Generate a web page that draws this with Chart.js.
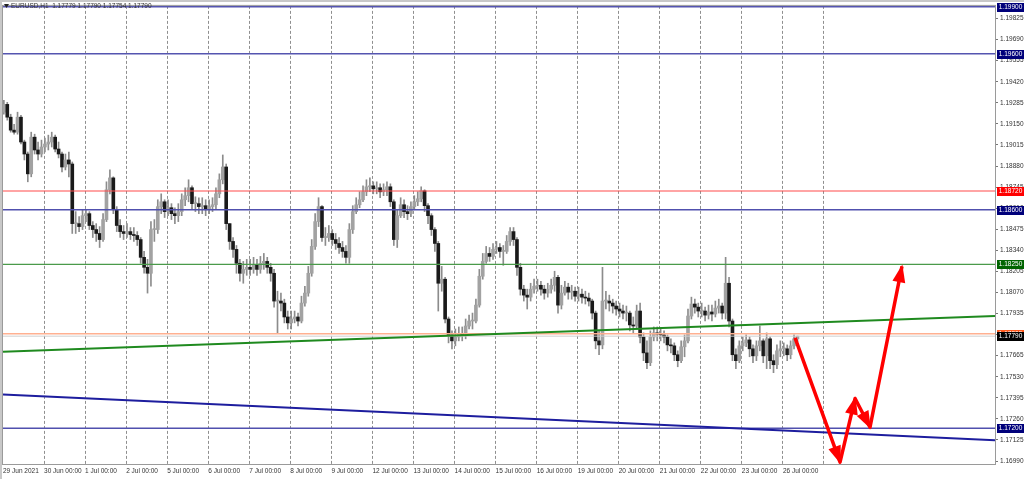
<!DOCTYPE html>
<html>
<head>
<meta charset="utf-8">
<script src="https://cdn.jsdelivr.net/npm/chart.js@4.4.0/dist/chart.umd.min.js"></script>
<style>
  html, body { margin: 0; padding: 0; background: #fff; }
  canvas { display: block; }
</style>
</head>
<body>
<canvas id="chart" width="1024" height="479"></canvas>
<script>
const symbolTitle = 'EURUSD,H1  1.17779 1.17790 1.17754 1.17790';

// time axis: H1 bar index where each trading day starts
const dayStarts = [0, 24, 48, 72, 96, 120, 144, 168, 192, 216, 240, 264, 288, 312, 336, 360, 384, 408, 432, 456, 480];
const dayLabels = ['29 Jun 2021', '30 Jun 00:00', '1 Jul 00:00', '2 Jul 00:00', '5 Jul 00:00', '6 Jul 00:00',
  '7 Jul 00:00', '8 Jul 00:00', '9 Jul 00:00', '12 Jul 00:00', '13 Jul 00:00', '14 Jul 00:00', '15 Jul 00:00',
  '16 Jul 00:00', '19 Jul 00:00', '20 Jul 00:00', '21 Jul 00:00', '22 Jul 00:00', '23 Jul 00:00', '26 Jul 00:00', ''];

const yTickValues = [1.16990, 1.17125, 1.17260, 1.17395, 1.17530, 1.17665, 1.17800, 1.17935, 1.18070, 1.18205,
  1.18340, 1.18475, 1.18610, 1.18745, 1.18880, 1.19015, 1.19150, 1.19285, 1.19420, 1.19555, 1.19690, 1.19825];

// price, one candle per two H1 bars
const hoursPerCandle = 2;
const firstOpen = 1.19225;
const closes = [
  1.19275, 1.19193, 1.19110, 1.19097, 1.19193, 1.19034, 1.18957, 1.18830, 1.19065, 1.18983, 1.18957, 1.19002, // 29 Jun
  1.19021, 1.19034, 1.19065, 1.18989, 1.18957, 1.18874, 1.18919, 1.18893, 1.18511, 1.18511, 1.18492, 1.18562, // 30 Jun
  1.18575, 1.18499, 1.18473, 1.18448, 1.18409, 1.18537, 1.18728, 1.18804, 1.18600, 1.18499, 1.18460, 1.18448, // 1 Jul
  1.18460, 1.18441, 1.18435, 1.18409, 1.18295, 1.18231, 1.18193, 1.18473, 1.18473, 1.18620, 1.18651, 1.18588, // 2 Jul
  1.18613, 1.18575, 1.18562, 1.18588, 1.18664, 1.18690, 1.18741, 1.18639, 1.18639, 1.18620, 1.18626, 1.18600, // 5 Jul
  1.18620, 1.18632, 1.18702, 1.18792, 1.18874, 1.18511, 1.18397, 1.18346, 1.18257, 1.18193, 1.18218, 1.18231, // 6 Jul
  1.18218, 1.18244, 1.18218, 1.18257, 1.18269, 1.18231, 1.18193, 1.18015, 1.18015, 1.18002, 1.17913, 1.17875, // 7 Jul
  1.17900, 1.17913, 1.17887, 1.18002, 1.18066, 1.18193, 1.18365, 1.18524, 1.18620, 1.18422, 1.18422, 1.18448, // 8 Jul
  1.18409, 1.18384, 1.18358, 1.18333, 1.18295, 1.18473, 1.18588, 1.18632, 1.18664, 1.18715, 1.18747, 1.18753, // 9 Jul
  1.18734, 1.18741, 1.18715, 1.18728, 1.18747, 1.18651, 1.18409, 1.18562, 1.18632, 1.18588, 1.18575, 1.18620, // 12 Jul
  1.18651, 1.18670, 1.18721, 1.18626, 1.18562, 1.18473, 1.18384, 1.18129, 1.18155, 1.17900, 1.17798, 1.17760, // 13 Jul
  1.17785, 1.17804, 1.17798, 1.17855, 1.17887, 1.17887, 1.17989, 1.18174, 1.18269, 1.18320, 1.18301, 1.18346, // 14 Jul
  1.18358, 1.18333, 1.18333, 1.18397, 1.18460, 1.18409, 1.18231, 1.18091, 1.18053, 1.18040, 1.18091, 1.18110, // 15 Jul
  1.18116, 1.18091, 1.18066, 1.18091, 1.18116, 1.18167, 1.17989, 1.18066, 1.18104, 1.18072, 1.18078, 1.18046, // 16 Jul
  1.18059, 1.18040, 1.18034, 1.18015, 1.17938, 1.17760, 1.17734, 1.18015, 1.18015, 1.18002, 1.17983, 1.17964, // 19 Jul
  1.17951, 1.17938, 1.17938, 1.17862, 1.17855, 1.17951, 1.17785, 1.17683, 1.17620, 1.17785, 1.17811, 1.17804, // 20 Jul
  1.17798, 1.17785, 1.17734, 1.17728, 1.17671, 1.17633, 1.17722, 1.17760, 1.17919, 1.17996, 1.17976, 1.17951, // 21 Jul
  1.17951, 1.17925, 1.17945, 1.17932, 1.17970, 1.17983, 1.17938, 1.18129, 1.17887, 1.17671, 1.17633, 1.17728, // 22 Jul
  1.17747, 1.17766, 1.17709, 1.17664, 1.17728, 1.17760, 1.17664, 1.17773, 1.17633, 1.17607, 1.17696, 1.17709, // 23 Jul
  1.17709, 1.17671, 1.17728, 1.17773, 1.17790                                                                  // 26 Jul
];
const highs = [
  1.19301, 1.19288, 1.19212, 1.19148, 1.19225, 1.19205, 1.19046, 1.18970, 1.19097, 1.19084, 1.19034, 1.19046,
  1.19059, 1.19078, 1.19097, 1.19078, 1.19034, 1.18970, 1.18957, 1.18970, 1.18906, 1.18588, 1.18556, 1.18600,
  1.18600, 1.18588, 1.18524, 1.18511, 1.18492, 1.18575, 1.18779, 1.18855, 1.18811, 1.18620, 1.18537, 1.18499,
  1.18511, 1.18486, 1.18486, 1.18460, 1.18422, 1.18333, 1.18282, 1.18524, 1.18537, 1.18664, 1.18702, 1.18664,
  1.18664, 1.18639, 1.18613, 1.18639, 1.18702, 1.18741, 1.18792, 1.18753, 1.18683, 1.18677, 1.18677, 1.18664,
  1.18664, 1.18677, 1.18741, 1.18830, 1.18951, 1.18893, 1.18511, 1.18422, 1.18371, 1.18282, 1.18269, 1.18282,
  1.18282, 1.18295, 1.18282, 1.18301, 1.18320, 1.18295, 1.18257, 1.18218, 1.18078, 1.18066, 1.18027, 1.17951,
  1.17951, 1.17951, 1.17938, 1.18046, 1.18110, 1.18237, 1.18409, 1.18575, 1.18677, 1.18626, 1.18486, 1.18499,
  1.18473, 1.18448, 1.18422, 1.18397, 1.18371, 1.18511, 1.18626, 1.18677, 1.18715, 1.18753, 1.18792, 1.18804,
  1.18779, 1.18779, 1.18766, 1.18766, 1.18779, 1.18766, 1.18664, 1.18600, 1.18677, 1.18664, 1.18626, 1.18651,
  1.18690, 1.18715, 1.18747, 1.18728, 1.18639, 1.18575, 1.18486, 1.18397, 1.18237, 1.18167, 1.17913, 1.17824,
  1.17836, 1.17849, 1.17849, 1.17900, 1.17925, 1.17938, 1.18027, 1.18218, 1.18320, 1.18365, 1.18358, 1.18384,
  1.18397, 1.18384, 1.18371, 1.18435, 1.18486, 1.18486, 1.18422, 1.18257, 1.18116, 1.18091, 1.18129, 1.18155,
  1.18155, 1.18142, 1.18116, 1.18129, 1.18155, 1.18206, 1.18180, 1.18116, 1.18142, 1.18129, 1.18116, 1.18104,
  1.18104, 1.18091, 1.18078, 1.18066, 1.18027, 1.17951, 1.17824, 1.18231, 1.18078, 1.18053, 1.18027, 1.18015,
  1.18002, 1.17989, 1.17983, 1.17951, 1.17913, 1.17989, 1.18002, 1.17811, 1.17760, 1.17824, 1.17849, 1.17849,
  1.17836, 1.17824, 1.17798, 1.17773, 1.17747, 1.17696, 1.17760, 1.17798, 1.17964, 1.18040, 1.18027, 1.18002,
  1.18002, 1.17976, 1.17989, 1.17989, 1.18015, 1.18027, 1.18002, 1.18295, 1.18167, 1.17900, 1.17709, 1.17760,
  1.17785, 1.17798, 1.17785, 1.17734, 1.17760, 1.17855, 1.17773, 1.17811, 1.17785, 1.17671, 1.17734, 1.17760,
  1.17747, 1.17734, 1.17760, 1.17798, 1.17790
];
const lows = [
  1.19212, 1.19174, 1.19097, 1.19084, 1.19084, 1.19021, 1.18919, 1.18779, 1.18811, 1.18957, 1.18919, 1.18938,
  1.18970, 1.18983, 1.19002, 1.18970, 1.18932, 1.18842, 1.18855, 1.18811, 1.18448, 1.18448, 1.18460, 1.18473,
  1.18524, 1.18473, 1.18422, 1.18397, 1.18358, 1.18397, 1.18524, 1.18702, 1.18575, 1.18460, 1.18422, 1.18409,
  1.18422, 1.18409, 1.18397, 1.18371, 1.18257, 1.18193, 1.18066, 1.18110, 1.18397, 1.18448, 1.18575, 1.18550,
  1.18562, 1.18537, 1.18511, 1.18524, 1.18562, 1.18626, 1.18651, 1.18600, 1.18588, 1.18575, 1.18575, 1.18562,
  1.18575, 1.18588, 1.18600, 1.18677, 1.18766, 1.18473, 1.18346, 1.18295, 1.18193, 1.18142, 1.18129, 1.18180,
  1.18180, 1.18193, 1.18180, 1.18193, 1.18218, 1.18193, 1.18142, 1.17976, 1.17811, 1.17951, 1.17875, 1.17836,
  1.17836, 1.17875, 1.17855, 1.17875, 1.17983, 1.18046, 1.18174, 1.18346, 1.18492, 1.18397, 1.18371, 1.18397,
  1.18371, 1.18346, 1.18320, 1.18295, 1.18257, 1.18257, 1.18448, 1.18575, 1.18613, 1.18651, 1.18690, 1.18715,
  1.18702, 1.18702, 1.18677, 1.18690, 1.18690, 1.18620, 1.18371, 1.18358, 1.18550, 1.18550, 1.18537, 1.18556,
  1.18600, 1.18626, 1.18651, 1.18588, 1.18511, 1.18435, 1.18333, 1.17951, 1.18078, 1.17875, 1.17747, 1.17709,
  1.17728, 1.17760, 1.17760, 1.17773, 1.17836, 1.17836, 1.17875, 1.17976, 1.18155, 1.18257, 1.18269, 1.18282,
  1.18320, 1.18295, 1.18244, 1.18320, 1.18371, 1.18371, 1.18180, 1.18053, 1.18015, 1.17964, 1.18015, 1.18066,
  1.18078, 1.18053, 1.18027, 1.18040, 1.18066, 1.18078, 1.17938, 1.17964, 1.18053, 1.18027, 1.18027, 1.18015,
  1.18015, 1.18002, 1.17996, 1.17983, 1.17900, 1.17709, 1.17671, 1.17709, 1.17964, 1.17951, 1.17938, 1.17925,
  1.17913, 1.17900, 1.17887, 1.17824, 1.17811, 1.17836, 1.17747, 1.17633, 1.17582, 1.17601, 1.17760, 1.17760,
  1.17760, 1.17747, 1.17696, 1.17683, 1.17633, 1.17594, 1.17620, 1.17658, 1.17747, 1.17900, 1.17938, 1.17913,
  1.17913, 1.17887, 1.17900, 1.17887, 1.17913, 1.17938, 1.17900, 1.17900, 1.17849, 1.17633, 1.17582, 1.17620,
  1.17696, 1.17722, 1.17658, 1.17620, 1.17633, 1.17696, 1.17620, 1.17582, 1.17582, 1.17556, 1.17582, 1.17658,
  1.17664, 1.17633, 1.17645, 1.17709, 1.17754
];

// horizontal levels and trend lines
const levelPrices = [1.19900, 1.19600, 1.18720, 1.18600, 1.18250, 1.17805, 1.17790, 1.17200];
const trendX = [0, 580];
const greenTrend = [1.17690, 1.17919];
const blueTrend = [1.17416, 1.17123];

// red forecast path (H1 bar index, price)
const forecastX = [463.1, 489.4, 498.2, 506.9, 525.6];
const forecastY = [1.17779, 1.16983, 1.17391, 1.17206, 1.18237];

// styles for the levels, same order as levelPrices
const levelColors = ['#5555b0', '#5555b0', '#ff4a4a', '#5050ae', '#4a9a4a', '#ffb090', '#cfcfcf', '#5050ae'];
const levelWidths = [1.5, 1.5, 1.2, 1.5, 1.2, 1.5, 1, 1.5];
const boxColors = ['#00007a', '#00007a', '#ff0000', '#00007a', '#006400', '#ff5a1e', '#000000', '#00007a'];

const bodies = [], wicks = [], bodyColors = [];
let prevClose = firstOpen;
closes.forEach((c, i) => {
    const x = i * hoursPerCandle + 0.5;
    const o = prevClose;
    bodies.push({x: x, y: [o, c]});
    wicks.push({x: x, y: [Math.min(lows[i], o, c), Math.max(highs[i], o, c)]});
    bodyColors.push(c >= o ? '#a2a2a2' : '#1a1a1a');
    prevClose = c;
});

const datasets = [];
datasets.push({type: 'line', data: forecastX.map((x, i) => ({x: x, y: forecastY[i]})),
    borderColor: '#ff0000', borderWidth: 3.5, pointRadius: 0, borderJoinStyle: 'round', order: 0});
datasets.push({type: 'line', data: trendX.map((x, i) => ({x: x, y: greenTrend[i]})),
    borderColor: '#1f8a1f', borderWidth: 2, pointRadius: 0, order: 1});
datasets.push({type: 'line', data: trendX.map((x, i) => ({x: x, y: blueTrend[i]})),
    borderColor: '#1d1d9e', borderWidth: 2, pointRadius: 0, order: 1});
levelPrices.forEach((p, i) => {
    datasets.push({type: 'line', data: trendX.map(x => ({x: x, y: p})),
        borderColor: levelColors[i], borderWidth: levelWidths[i], pointRadius: 0, order: 2});
});
datasets.push({type: 'bar', data: bodies, backgroundColor: bodyColors, barThickness: 3,
    minBarLength: 1, grouped: false, order: 10});
datasets.push({type: 'bar', data: wicks, backgroundColor: '#8c8c8c', barThickness: 1,
    grouped: false, order: 11});

const smallFont = {family: 'Liberation Sans', size: 6.5};

const mtDecor = {
    id: 'mtDecor',
    beforeDraw(chart) {
        const c = chart.ctx;
        c.save();
        c.fillStyle = '#ffffff';
        c.fillRect(0, 0, chart.width, chart.height);
        c.restore();
    },
    afterDatasetsDraw(chart) {
        // arrow heads on the forecast path
        const c = chart.ctx;
        const pts = chart.getDatasetMeta(0).data;
        c.save();
        c.fillStyle = '#ff0000';
        for (let i = 1; i < pts.length; i++) {
            const a = pts[i - 1], b = pts[i];
            const ang = Math.atan2(b.y - a.y, b.x - a.x);
            const len = 16, half = 6.5;
            const bx = b.x - len * Math.cos(ang), by = b.y - len * Math.sin(ang);
            c.beginPath();
            c.moveTo(b.x + 2 * Math.cos(ang), b.y + 2 * Math.sin(ang));
            c.lineTo(bx + half * Math.sin(ang), by - half * Math.cos(ang));
            c.lineTo(bx - half * Math.sin(ang), by + half * Math.cos(ang));
            c.closePath();
            c.fill();
        }
        c.restore();
    },
    afterDraw(chart) {
        const c = chart.ctx;
        const area = chart.chartArea;
        const ys = chart.scales.y;
        c.save();
        // window edges and chart frame
        c.fillStyle = '#c8c8c8';
        c.fillRect(0, 0, chart.width, 2);
        c.fillRect(0, 0, 2, chart.height);
        c.strokeStyle = '#9a9a9a';
        c.lineWidth = 1;
        c.strokeRect(area.left - 0.5, area.top - 0.5, area.right - area.left + 1, area.bottom - area.top + 1);

        // title
        c.fillStyle = '#222';
        c.beginPath();
        c.moveTo(4, 4); c.lineTo(9, 4); c.lineTo(6.5, 8); c.closePath(); c.fill();
        c.font = '6.5px "Liberation Sans"';
        c.fillStyle = '#333';
        c.textBaseline = 'middle';
        c.textAlign = 'left';
        c.fillText(symbolTitle, 11, 6.5);

        // price boxes on the right scale
        c.textAlign = 'center';
        levelPrices.forEach((p, i) => {
            const y = Math.round(ys.getPixelForValue(p));
            c.fillStyle = boxColors[i];
            c.fillRect(area.right + 2, y - 4, 27, 9);
            c.fillStyle = '#ffffff';
            c.fillText(p.toFixed(5), area.right + 15.5, y + 0.5);
        });
        c.restore();
    }
};

new Chart(document.getElementById('chart').getContext('2d'), {
    type: 'bar',
    data: {datasets: datasets},
    options: {
        responsive: false,
        animation: false,
        devicePixelRatio: 1,
        layout: {padding: {left: 3, top: 3, right: 0, bottom: 0}},
        plugins: {legend: {display: false}, tooltip: {enabled: false}},
        scales: {
            x: {
                type: 'linear',
                min: 0,
                max: 580,
                offset: false,
                afterBuildTicks: s => { s.ticks = dayStarts.map(v => ({value: v})); },
                afterFit: s => { s.height = 15; },
                ticks: {
                    autoSkip: false, maxRotation: 0, align: 'start', padding: 3,
                    font: smallFont, color: '#333',
                    callback: (v, i) => dayLabels[i]
                },
                grid: {
                    offset: false,
                    drawTicks: false,
                    color: c => c.index === 0 ? 'rgba(0,0,0,0)' : '#8f8f8f'
                },
                border: {display: false, dash: [3, 2]}
            },
            y: {
                position: 'right',
                min: 1.16971,
                max: 1.19906,
                afterBuildTicks: s => { s.ticks = yTickValues.map(v => ({value: v})); },
                afterFit: s => { s.width = 29; },
                ticks: {padding: 2, font: smallFont, color: '#333', callback: v => v.toFixed(5)},
                grid: {drawOnChartArea: false, drawTicks: true, tickLength: 3, color: '#777'},
                border: {display: false}
            }
        }
    },
    plugins: [mtDecor]
});
</script>
</body>
</html>
